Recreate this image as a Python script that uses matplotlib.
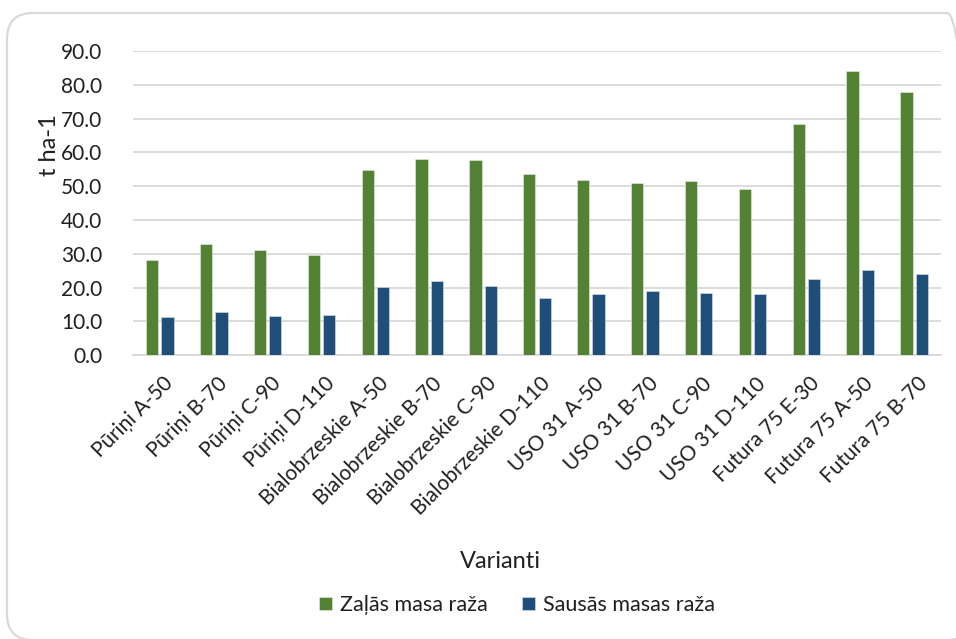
import matplotlib
matplotlib.use("Agg")
import matplotlib.pyplot as plt
import numpy as np
from matplotlib.patches import FancyBboxPatch
from matplotlib.transforms import IdentityTransform, ScaledTranslation

plt.rcParams['font.family'] = ['Lato', 'DejaVu Sans']

categories = [
    "Pūriņi A-50", "Pūriņi B-70", "Pūriņi C-90", "Pūriņi D-110",
    "Bialobrzeskie A-50", "Bialobrzeskie B-70", "Bialobrzeskie C-90",
    "Bialobrzeskie D-110", "USO 31 A-50", "USO 31 B-70", "USO 31 C-90",
    "USO 31 D-110", "Futura 75 E-30", "Futura 75 A-50", "Futura 75 B-70",
]
green_mass = [28.1, 32.8, 31.2, 29.7, 54.8, 58.1, 57.8, 53.5, 51.9, 50.9,
              51.5, 49.3, 68.5, 84.0, 77.9]
dry_mass = [11.3, 12.7, 11.7, 11.8, 20.2, 21.9, 20.6, 17.0, 18.0, 19.0,
            18.3, 18.0, 22.5, 25.1, 24.0]
series_names = ["Zaļās masa raža", "Sausās masas raža"]
y_ticks = [0, 10, 20, 30, 40, 50, 60, 70, 80, 90]

GREEN = "#548235"
BLUE = "#1F4E79"
TEXT = "#1f1f1f"
GRID = "#D9D9D9"

W, H = 956, 639
fig = plt.figure(figsize=(W / 100, H / 100), dpi=100)
fig.patch.set_facecolor("white")

# rounded chart frame (runs past the right edge)
frame = FancyBboxPatch((7, -1), 966, 627,
                       boxstyle="round,pad=0,rounding_size=26",
                       transform=IdentityTransform(),
                       facecolor="none", edgecolor=GRID, linewidth=1.6)
fig.patches.append(frame)

ax = fig.add_axes([133 / W, 1 - 355.3 / H, 808 / W, 304.3 / H])
x = np.arange(len(categories))
bw = 0.228
off = 0.142
ax.bar(x - off, green_mass, bw, color=GREEN, edgecolor="#e8eee4",
       linewidth=0.4, label=series_names[0], zorder=3)
ax.bar(x + off, dry_mass, bw, color=BLUE, edgecolor="#dde3ea",
       linewidth=0.4, label=series_names[1], zorder=3)

ax.set_xlim(-0.5, len(categories) - 0.5)
ax.set_ylim(0, 90)
ax.set_yticks(y_ticks)
ax.set_yticklabels([f"{v:.1f}" for v in y_ticks])
ax.yaxis.grid(True, color=GRID, linewidth=1.3, zorder=0)
ax.set_axisbelow(True)
for s in ["top", "right", "left"]:
    ax.spines[s].set_visible(False)
ax.spines["bottom"].set_color(GRID)
ax.spines["bottom"].set_linewidth(1.3)
ax.tick_params(axis="y", length=0, pad=22, labelsize=15, labelcolor=TEXT)
ax.tick_params(axis="x", length=0, pad=13, labelsize=15, labelcolor=TEXT)
ax.set_xticks(x)
ax.set_xticklabels(categories, rotation=45, ha="right",
                   rotation_mode="anchor")
shift = ScaledTranslation(3 / 100, 0, fig.dpi_scale_trans)
for lbl in ax.get_xticklabels():
    lbl.set_transform(lbl.get_transform() + shift)

fig.text(50 / W, 1 - 145 / H, "t ha-1", rotation=90, ha="center",
         va="center", fontsize=17, color=TEXT)
fig.text(500 / W, 1 - 562 / H, "Varianti", ha="center", va="center",
         fontsize=17, color=TEXT)

handles, labels = ax.get_legend_handles_labels()
fig.legend(handles, labels, loc="center", bbox_to_anchor=(517 / W, 1 - 605 / H),
           ncol=2, frameon=False, fontsize=15.5, handlelength=0.6,
           handleheight=0.6, handletextpad=0.35, columnspacing=1.6,
           labelcolor=TEXT)

fig.savefig("out.png", dpi=100)
